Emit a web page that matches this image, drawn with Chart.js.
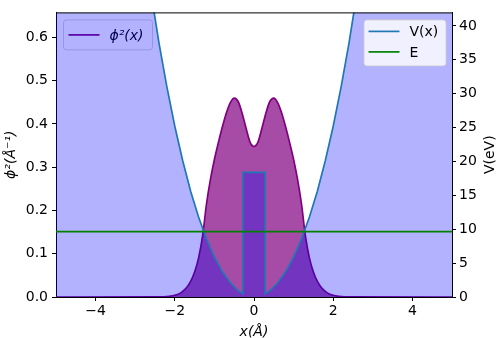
<!DOCTYPE html>
<html>
<head>
<meta charset="utf-8">
<script src="https://cdn.jsdelivr.net/npm/chart.js@4.4.0/dist/chart.umd.min.js"></script>
<style>
  html, body { margin: 0; padding: 0; background: #fff; }
  #wrap { position: relative; width: 498px; height: 338px; }
</style>
</head>
<body>
<div id="wrap"><canvas id="chart"></canvas></div>
<script>
// probability density phi^2(x)
const phiX = [-5, -2.5, -2.4, -2.3, -2.2, -2.1, -2.0, -1.9, -1.8, -1.7, -1.6, -1.5, -1.4, -1.3, -1.2, -1.1, -1.0,
  -0.9, -0.8, -0.7, -0.6, -0.5, -0.4, -0.3, -0.2, -0.1, 0, 0.1, 0.2, 0.3, 0.4, 0.5, 0.6, 0.7, 0.8, 0.9,
  1.0, 1.1, 1.2, 1.3, 1.4, 1.5, 1.6, 1.7, 1.8, 1.9, 2.0, 2.1, 2.2, 2.3, 2.4, 2.5, 5];
const phiY = [0, 0.0001, 0.0002, 0.0005, 0.001, 0.002, 0.004, 0.007, 0.013, 0.022, 0.036, 0.058, 0.090, 0.140, 0.215, 0.272, 0.318,
  0.357, 0.393, 0.425, 0.449, 0.460, 0.452, 0.425, 0.390, 0.358, 0.348, 0.358, 0.390, 0.425, 0.452, 0.460, 0.449, 0.425, 0.393, 0.357,
  0.318, 0.272, 0.215, 0.140, 0.090, 0.058, 0.036, 0.022, 0.013, 0.007, 0.004, 0.002, 0.001, 0.0005, 0.0002, 0.0001, 0];

// potential V(x) in eV: well plus central barrier
const vX = [-5, -3, -2.8, -2.6, -2.4, -2.2, -2.0, -1.8, -1.6, -1.4, -1.2, -1.0, -0.8, -0.6, -0.4, -0.28,
  -0.28, 0.28,
  0.28, 0.4, 0.6, 0.8, 1.0, 1.2, 1.4, 1.6, 1.8, 2.0, 2.2, 2.4, 2.6, 2.8, 3, 5];
const vY = [224, 62.3, 53.1, 44.9, 37.5, 31.0, 25.2, 20.1, 15.6, 11.8, 8.6, 5.9, 3.75, 2.1, 0.93, 0.5,
  18.4, 18.4,
  0.5, 0.93, 2.1, 3.75, 5.9, 8.6, 11.8, 15.6, 20.1, 25.2, 31.0, 37.5, 44.9, 53.1, 62.3, 224];

// energy level
const eX = [-5, 5];
const eY = [9.65, 9.65];

// ticks
const xTicks = [-4, -2, 0, 2, 4];
const phiTicks = [0, 0.1, 0.2, 0.3, 0.4, 0.5, 0.6];
const vTicks = [0, 5, 10, 15, 20, 25, 30, 35, 40];

const FONT = '"DejaVu Sans", sans-serif';
const pts = (xs, ys) => xs.map((x, i) => ({ x: x, y: ys[i] }));
const minus = v => v < 0 ? '\u2212' + Math.abs(v) : String(v);

function legendBox(ctx, x, y, w, h) {
  ctx.beginPath();
  ctx.roundRect(x, y, w, h, 3);
  ctx.fillStyle = 'rgba(255,255,255,0.8)';
  ctx.fill();
  ctx.strokeStyle = 'rgba(204,204,204,0.8)';
  ctx.lineWidth = 1;
  ctx.stroke();
}

function legendRow(ctx, x, y, color, text, italic) {
  ctx.beginPath();
  ctx.moveTo(x, y);
  ctx.lineTo(x + 31, y);
  ctx.strokeStyle = color;
  ctx.lineWidth = 1.7;
  ctx.stroke();
  ctx.fillStyle = '#000';
  ctx.font = (italic ? 'italic ' : '') + '14px ' + FONT;
  ctx.textAlign = 'left';
  ctx.textBaseline = 'middle';
  ctx.fillText(text, x + 41, y + 1);
}

function vText(ctx, text, x, y, font) {
  ctx.save();
  ctx.translate(x, y);
  ctx.rotate(-Math.PI / 2);
  ctx.font = font;
  ctx.fillStyle = '#000';
  ctx.textAlign = 'center';
  ctx.textBaseline = 'middle';
  ctx.fillText(text, 0, 0);
  ctx.restore();
}

const extras = {
  id: 'extras',
  // phi^2 legend sits on the left axes, so the V fill is painted over it
  afterDatasetDraw(chart, args) {
    if (args.index !== 0) return;
    const ctx = chart.ctx, ca = chart.chartArea;
    ctx.save();
    legendBox(ctx, ca.left + 7.5, ca.top + 7.5, 89, 30);
    legendRow(ctx, ca.left + 12.5, ca.top + 22.5, 'purple', '\u03d5\u00b2(x)', true);
    ctx.restore();
  },
  afterDraw(chart) {
    const ctx = chart.ctx, ca = chart.chartArea;
    ctx.save();
    // top spine
    ctx.beginPath();
    ctx.moveTo(ca.left, ca.top + 0.5);
    ctx.lineTo(ca.right, ca.top + 0.5);
    ctx.strokeStyle = '#000';
    ctx.lineWidth = 1;
    ctx.stroke();
    // V / E legend
    const lx = ca.right - 88;
    legendBox(ctx, lx, ca.top + 7.5, 82, 46);
    legendRow(ctx, lx + 4.5, ca.top + 19, '#1f77b4', 'V(x)', false);
    legendRow(ctx, lx + 4.5, ca.top + 39.5, 'green', 'E', false);
    // axis titles
    ctx.font = 'italic 14px ' + FONT;
    ctx.fillStyle = '#000';
    ctx.textAlign = 'center';
    ctx.textBaseline = 'middle';
    ctx.fillText('x(\u00c5)', (ca.left + ca.right) / 2, ca.bottom + 35);
    const my = (ca.top + ca.bottom) / 2;
    vText(ctx, '\u03d5\u00b2(\u00c5\u207b\u00b9)', 11, my, 'italic 14px ' + FONT);
    vText(ctx, 'V(eV)', 490, my, '14px ' + FONT);
    ctx.restore();
  }
};

const tickFont = { family: FONT, size: 14 };
const grid = { drawOnChartArea: false, drawTicks: true, tickLength: 4, tickColor: '#000', tickWidth: 1 };
const border = { display: true, color: '#000', width: 1 };

new Chart(document.getElementById('chart'), {
  type: 'line',
  data: {
    datasets: [
      {
        label: 'phi2', data: pts(phiX, phiY), yAxisID: 'y',
        borderColor: 'purple', backgroundColor: 'rgba(128,0,128,0.7)', borderWidth: 1.7,
        fill: 'origin', pointRadius: 0, cubicInterpolationMode: 'monotone', order: 2
      },
      {
        label: 'V(x)', data: pts(vX, vY), yAxisID: 'y2',
        borderColor: '#1f77b4', backgroundColor: 'rgba(0,0,255,0.3)', borderWidth: 1.7,
        fill: 'origin', pointRadius: 0, tension: 0, order: 1
      },
      {
        label: 'E', data: pts(eX, eY), yAxisID: 'y2',
        borderColor: 'green', borderWidth: 1.7, fill: false, pointRadius: 0, order: 0
      }
    ]
  },
  options: {
    responsive: true,
    maintainAspectRatio: false,
    animation: false,
    layout: { padding: { top: 3 } },
    plugins: { legend: { display: false }, tooltip: { enabled: false } },
    scales: {
      x: {
        type: 'linear', min: -5, max: 5,
        afterBuildTicks: s => { s.ticks = xTicks.map(v => ({ value: v })); },
        ticks: { color: '#000', font: tickFont, padding: 2, maxRotation: 0, callback: v => minus(v) },
        grid: grid, border: border,
        afterFit: s => { s.height = 41; }
      },
      y: {
        position: 'left', min: 0, max: 0.658,
        afterBuildTicks: s => { s.ticks = phiTicks.map(v => ({ value: v })); },
        ticks: { color: '#000', font: tickFont, padding: 4, callback: v => v.toFixed(1) },
        grid: grid, border: border,
        afterFit: s => { s.width = 56; }
      },
      y2: {
        position: 'right', min: 0, max: 42,
        afterBuildTicks: s => { s.ticks = vTicks.map(v => ({ value: v })); },
        ticks: { color: '#000', font: tickFont, padding: 3 },
        grid: grid, border: border,
        afterFit: s => { s.width = 46; }
      }
    }
  },
  plugins: [extras]
});
</script>
</body>
</html>
